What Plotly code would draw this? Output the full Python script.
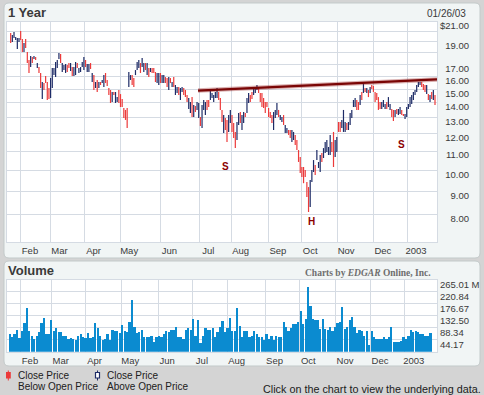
import math
import plotly.graph_objects as go

W, H = 484, 395

# ---------------- data ----------------
months = ["Feb", "Mar", "Apr", "May", "Jun", "Jul", "Aug", "Sep", "Oct", "Nov", "Dec", "2003"]
price_month_pos = [6.2, 23.9, 44.4, 65.8, 90, 113.4, 132.8, 155.2, 174.6, 196.2, 218.3, 238.2]
volume_month_pos = [4.5, 17.1, 30.9, 45.5, 60.6, 74.8, 89.0, 104.5, 118.3, 133.3, 147.6, 161.4]

# d = close below open (red), u = close above open (navy)
direction = (
    "d u u u u u d d u d "
    "d d u d u d u d d u "
    "d d d d u u u u u u "
    "d u u u d d u d u u "
    "d u u u u d u u d u "
    "d u d u d u u d d d "
    "d u d u u d d d d d "
    "d u u d d u u u d u "
    "u d u d u d d d u u "
    "d u u d d u d u d u "
    "u d u u d d d u u d "
    "u d u u d u u u d d "
    "u u u u u d d d u d "
    "d u u d d d u u d u "
    "u d u u d d u u u d "
    "d d d d d d d d u u "
    "u d u u d u u d d u "
    "u d d d d d d d d d "
    "u u u d u u u d u u "
    "u u u d d u u d d u "
    "u u d u u u u u d d "
    "u d u d u d u d d d "
    "d d d u u u d u u d "
    "d u d u u d d u u u "
    "u u u u u u u d d d "
    "u d u d u d"
).split()

high = [
    19.87, 19.67, 19.97, 19.48, 19.38, 19.38, 20.07, 19.29, 18.91, 19.29,
    18.07, 17.36, 17.71, 17.62, 17.71, 17.62, 17.10, 16.76, 16.27, 15.55,
    15.47, 16.02, 15.55, 15.09, 15.86, 16.68, 16.68, 17.19, 17.36, 17.98,
    17.89, 17.10, 16.93, 17.02, 16.93, 17.10, 17.10, 16.76, 16.76, 17.19,
    17.10, 16.68, 16.76, 17.19, 17.62, 17.36, 17.02, 17.02, 17.10, 16.27,
    16.10, 15.55, 15.71, 15.55, 15.55, 15.71, 16.10, 16.27, 15.71, 15.09,
    14.94, 14.79, 14.79, 14.79, 14.42, 14.94, 14.64, 14.28, 13.65, 13.52,
    13.65, 16.35, 16.10, 16.10, 15.86, 16.51, 17.19, 17.36, 17.10, 17.53,
    17.10, 17.10, 17.10, 16.68, 16.68, 16.68, 16.68, 16.35, 16.27, 16.27,
    16.27, 16.10, 16.10, 15.94, 15.86, 15.94, 15.86, 15.55, 15.94, 15.32,
    15.16, 15.16, 15.09, 15.16, 15.09, 14.94, 14.57, 14.35, 14.07, 14.42,
    13.86, 13.79, 14.07, 14.00, 13.05, 13.86, 14.21, 14.07, 14.21, 14.21,
    14.86, 14.72, 14.57, 14.79, 15.09, 14.79, 14.35, 13.52, 13.18, 12.99,
    12.86, 13.18, 13.52, 13.18, 12.67, 12.11, 12.73, 13.31, 13.38, 13.18,
    13.38, 13.31, 14.35, 14.72, 14.57, 14.79, 15.09, 15.16, 15.32, 15.09,
    14.72, 14.72, 14.35, 14.07, 14.07, 13.65, 13.38, 13.18, 13.38, 13.52,
    14.00, 13.52, 13.18, 13.05, 13.18, 12.54, 12.35, 12.23, 12.23, 12.23,
    12.11, 11.93, 11.63, 11.06, 10.68, 10.16, 10.16, 10.01, 9.42, 9.19,
    9.52, 10.01, 10.52, 10.26, 11.06, 10.42, 10.79, 10.90, 11.17, 11.51,
    11.63, 11.23, 11.93, 11.51, 12.11, 11.63, 11.81, 12.73, 12.73, 12.86,
    13.52, 12.73, 12.67, 12.73, 13.31, 13.52, 14.21, 14.35, 14.21, 14.07,
    14.57, 14.79, 15.47, 15.09, 15.09, 14.94, 15.16, 15.32, 15.24, 14.79,
    14.72, 14.42, 14.07, 14.07, 14.21, 13.93, 14.07, 14.42, 13.93, 13.58,
    13.52, 13.52, 13.58, 13.58, 13.72, 13.52, 13.25, 13.25, 13.72, 13.93,
    14.42, 14.57, 14.79, 14.94, 15.32, 15.55, 15.55, 15.55, 15.40, 15.32,
    15.32, 14.64, 14.57, 14.79, 14.94, 14.57,
]

low = [
    18.91, 19.00, 19.38, 19.19, 18.35, 19.00, 19.19, 18.07, 18.07, 18.44,
    17.10, 16.27, 16.76, 17.10, 17.45, 17.36, 16.68, 16.27, 15.09, 14.28,
    14.94, 15.47, 14.21, 14.28, 14.35, 15.09, 16.10, 15.94, 16.68, 17.45,
    17.10, 16.35, 16.51, 16.27, 16.35, 16.68, 16.43, 16.02, 16.02, 16.10,
    16.68, 16.27, 16.35, 16.76, 16.51, 16.76, 16.35, 16.35, 16.60, 15.55,
    14.94, 15.09, 14.79, 15.09, 15.32, 15.47, 15.16, 15.47, 15.24, 14.57,
    14.00, 14.07, 14.57, 14.00, 14.07, 14.00, 13.72, 13.72, 12.99, 12.86,
    12.35, 15.16, 15.71, 15.32, 15.16, 16.10, 16.51, 16.68, 16.27, 16.76,
    16.35, 16.51, 16.10, 15.94, 16.35, 16.27, 16.27, 15.55, 15.47, 15.32,
    15.47, 15.47, 15.47, 15.47, 15.16, 14.94, 15.47, 15.16, 15.16, 14.57,
    14.72, 14.57, 14.21, 14.79, 14.57, 14.42, 14.07, 13.58, 13.31, 13.05,
    13.05, 13.38, 13.52, 12.99, 12.48, 12.35, 13.52, 13.18, 13.52, 13.72,
    14.21, 14.35, 14.07, 14.35, 14.35, 14.21, 13.52, 12.73, 12.05, 12.23,
    11.51, 12.11, 12.67, 12.11, 11.75, 11.17, 11.63, 12.54, 12.67, 12.23,
    12.67, 13.05, 13.31, 14.00, 14.07, 14.28, 14.57, 14.72, 14.94, 14.72,
    14.07, 13.72, 13.65, 13.31, 13.72, 13.05, 12.99, 12.67, 12.23, 12.99,
    13.18, 13.05, 12.86, 12.73, 12.54, 12.05, 12.05, 11.93, 11.75, 11.51,
    11.63, 11.34, 11.06, 10.42, 9.86, 9.66, 9.37, 9.66, 8.74, 8.11,
    8.32, 9.42, 9.91, 9.76, 10.52, 10.11, 9.91, 10.42, 10.63, 10.90,
    10.95, 10.79, 10.79, 10.95, 10.16, 10.68, 10.95, 12.11, 12.11, 12.35,
    12.11, 12.11, 12.23, 12.23, 12.54, 12.99, 13.72, 13.72, 13.52, 13.52,
    13.86, 14.21, 14.72, 14.79, 14.72, 14.42, 14.72, 15.01, 14.79, 14.07,
    14.21, 13.52, 13.58, 13.58, 13.72, 13.58, 13.58, 13.72, 13.52, 13.05,
    12.79, 13.05, 13.25, 13.18, 13.25, 13.18, 13.12, 12.92, 13.05, 13.58,
    13.72, 13.93, 14.21, 14.57, 14.79, 15.16, 15.32, 15.16, 14.94, 14.79,
    14.64, 14.21, 14.07, 14.28, 14.21, 13.86,
]

# volume, millions of shares
volume = [
    65, 55, 65, 83, 51, 76, 106, 161, 76, 61,
    49, 61, 73, 107, 124, 67, 67, 120, 79, 90,
    73, 73, 59, 59, 48, 51, 49, 46, 61, 67,
    55, 52, 70, 51, 55, 106, 88, 61, 45, 50,
    65, 45, 83, 79, 79, 70, 101, 79, 73, 112,
    193, 92, 70, 73, 82, 57, 55, 57, 61, 39,
    55, 59, 55, 67, 76, 73, 82, 82, 94, 57,
    57, 49, 82, 89, 82, 122, 59, 118, 33,
    61, 89, 82, 82, 89, 55, 73, 94, 116, 73,
    89, 124, 76, 79, 162, 98, 55, 76, 76, 57,
    61, 79, 67, 57, 57, 46, 67, 49, 61, 46,
    61, 55, 55, 112, 92, 77, 89, 104, 104, 110,
    150, 104, 122, 240, 171, 122, 118, 118, 85, 122,
    85, 82, 92, 79, 94, 106, 110, 165, 85, 94,
    118, 128, 92, 70, 82, 79, 61, 79, 28, 79,
    57, 49, 49, 49, 57, 49,
    55, 92, 37, 37, 37, 40, 55, 49, 61, 82,
    73, 79, 73, 67, 67, 61, 61, 70,
]

price_tick_values = [21, 19, 17, 16, 15, 14, 13, 12, 11, 10, 9, 8]
price_tick_text = ["$21.00", "19.00", "17.00", "16.00", "15.00", "14.00",
                   "13.00", "12.00", "11.00", "10.00", "9.00", "8.00"]
price_grid_values = [8, 9, 10, 11, 12, 13, 14, 15, 16, 17, 18, 19, 20]
volume_tick_values = [44.17, 88.34, 132.50, 176.67, 220.84, 265.01]
volume_tick_text = ["44.17", "88.34", "132.50", "176.67", "220.84", "265.01 M"]

trend_x = [112.6, 256.2]
trend_y = [14.90, 15.75]

# ---------------- styles ----------------
RED = "#ec3a3a"
NAVY = "#1d2b66"
VOLBLUE = "#0b8bd0"
GRID = "#d5dbe3"
PANEL = "#f1f5f5"
PANEL_LINE = "#c3caca"
BG = "#d4d4d4"
TXT = "#3a3a3a"
FONT = "Liberation Sans"
tickfont = dict(family=FONT, size=9.5, color=TXT)


def fx(x):
    return x / W


def fy(y):
    return 1 - y / H


def rounded_rect(x0, y0, x1, y1, r):
    pts = [
        ("M", x0 + r, y0), ("L", x1 - r, y0), ("Q", x1, y0, x1, y0 + r),
        ("L", x1, y1 - r), ("Q", x1, y1, x1 - r, y1), ("L", x0 + r, y1),
        ("Q", x0, y1, x0, y1 - r), ("L", x0, y0 + r), ("Q", x0, y0, x0 + r, y0),
    ]
    out = []
    for p in pts:
        cmd, coords = p[0], p[1:]
        c = []
        for i in range(0, len(coords), 2):
            c.append(f"{fx(coords[i]):.5f},{fy(coords[i + 1]):.5f}")
        out.append(cmd + " " + " ".join(c))
    return " ".join(out) + " Z"


# ---------------- traces ----------------
red_x, red_y, navy_x, navy_y = [], [], [], []
for i, (d, h, l) in enumerate(zip(direction, high, low)):
    if d == "d":
        red_x += [i, i, None]
        red_y += [l, h, None]
    else:
        navy_x += [i, i, None]
        navy_y += [l, h, None]

fig = go.Figure()
fig.add_trace(go.Scatter(x=red_x, y=red_y, mode="lines", line=dict(color=RED, width=1.2),
                         xaxis="x", yaxis="y", hoverinfo="skip"))
fig.add_trace(go.Scatter(x=navy_x, y=navy_y, mode="lines", line=dict(color=NAVY, width=1.2),
                         xaxis="x", yaxis="y", hoverinfo="skip"))
fig.add_trace(go.Scatter(x=trend_x, y=trend_y, mode="lines",
                         line=dict(color="rgba(150,30,30,0.35)", width=4.5),
                         xaxis="x", yaxis="y3", hoverinfo="skip"))
fig.add_trace(go.Scatter(x=trend_x, y=trend_y, mode="lines",
                         line=dict(color="#7a0505", width=2.2),
                         xaxis="x", yaxis="y3", hoverinfo="skip"))
fig.add_trace(go.Bar(x=list(range(len(volume))), y=volume,
                     marker=dict(color=VOLBLUE, line=dict(width=0)), width=0.72,
                     xaxis="x2", yaxis="y2", hoverinfo="skip"))

log_range = [math.log10(6.98), math.log10(21)]

shapes = [
    dict(type="path", path=rounded_rect(4, 3, 480, 258, 5), xref="paper", yref="paper",
         fillcolor=PANEL, line=dict(color=PANEL_LINE, width=1), layer="below"),
    dict(type="path", path=rounded_rect(4, 261, 480, 366, 5), xref="paper", yref="paper",
         fillcolor=PANEL, line=dict(color=PANEL_LINE, width=1), layer="below"),
    dict(type="rect", x0=fx(7), x1=fx(437), y0=fy(242), y1=fy(22), xref="paper", yref="paper",
         fillcolor="white", line=dict(width=0), layer="below"),
    dict(type="rect", x0=fx(7), x1=fx(437), y0=fy(351.7), y1=fy(279.5), xref="paper", yref="paper",
         fillcolor="white", line=dict(width=0), layer="below"),
    # legend icons
    dict(type="line", x0=fx(8.3), x1=fx(8.3), y0=fy(370.5), y1=fy(380.5), xref="paper", yref="paper",
         line=dict(color=RED, width=1)),
    dict(type="rect", x0=fx(6), x1=fx(10.8), y0=fy(378.5), y1=fy(372), xref="paper", yref="paper",
         fillcolor=RED, line=dict(width=0)),
    dict(type="line", x0=fx(97.5), x1=fx(97.5), y0=fy(370.5), y1=fy(380.5), xref="paper", yref="paper",
         line=dict(color=NAVY, width=1)),
    dict(type="rect", x0=fx(95.5), x1=fx(99.5), y0=fy(378), y1=fy(372.5), xref="paper", yref="paper",
         fillcolor="white", line=dict(color=NAVY, width=1.2)),
]


def ann(text, x, y, xanchor="left", size=9.5, color=TXT, family=FONT, yanchor="middle"):
    return dict(text=text, x=fx(x), y=fy(y), xref="paper", yref="paper", showarrow=False,
                xanchor=xanchor, yanchor=yanchor, font=dict(family=family, size=size, color=color))


annotations = [
    ann("<b>1 Year</b>", 5.5, 12.5, size=13),
    ann("01/26/03", 467.5, 14, xanchor="right", size=10),
    ann("<b>Volume</b>", 5.5, 270, size=13),
    ann("<b>Charts by <i>EDGAR</i> Online, Inc.</b>", 433, 272.5, xanchor="right", size=9.5,
        color="#6e6e6e", family="Liberation Serif"),
    ann("<b>S</b>", 225, 166, xanchor="center", size=10, color="#8b0000"),
    ann("<b>H</b>", 311, 221.5, xanchor="center", size=10, color="#8b0000"),
    ann("<b>S</b>", 401.5, 145, xanchor="center", size=10, color="#8b0000"),
    ann("Close Price", 16, 375, size=10, color="#202020"),
    ann("Below Open Price", 16, 386.5, size=10, color="#202020"),
    ann("Close Price", 105, 375, size=10, color="#202020"),
    ann("Above Open Price", 105, 386.5, size=10, color="#202020"),
    ann("Click on the chart to view the underlying data.", 483, 388.5, xanchor="right",
        size=10.8, color="#202020"),
]

axis_common = dict(showgrid=True, gridcolor=GRID, gridwidth=1, zeroline=False,
                   showline=True, linecolor=GRID, linewidth=1, mirror=True, ticks="",
                   fixedrange=True, tickfont=tickfont, automargin=False)

fig.update_layout(
    width=W, height=H,
    margin=dict(l=0, r=0, t=0, b=0, pad=0, autoexpand=False),
    paper_bgcolor=BG, plot_bgcolor="rgba(0,0,0,0)",
    showlegend=False, bargap=0,
    shapes=shapes, annotations=annotations,
    xaxis=dict(domain=[fx(7), fx(437)], range=[-2.21, 256.2], anchor="y",
               tickmode="array", tickvals=price_month_pos, ticktext=months,
               ticklabelshift=9, **axis_common),
    yaxis=dict(domain=[fy(242), fy(22)], type="log", range=log_range, anchor="x",
               tickmode="array", tickvals=price_grid_values, showticklabels=False, **axis_common),
    yaxis3=dict(overlaying="y", side="left", anchor="free", position=fx(469),
                type="log", range=log_range, tickmode="array",
                tickvals=price_tick_values, ticktext=price_tick_text,
                showgrid=False, zeroline=False, showline=False, ticks="",
                fixedrange=True, tickfont=tickfont, ticklabelshift=4, automargin=False),
    xaxis2=dict(domain=[fx(7), fx(437)], range=[-1.22, 174.6], anchor="y2",
                tickmode="array", tickvals=volume_month_pos, ticktext=months,
                ticklabelshift=9, **axis_common),
    yaxis2=dict(domain=[fy(351.7), fy(279.5)], range=[0, 265.01], anchor="x2", side="right",
                tickmode="array", tickvals=volume_tick_values, ticktext=volume_tick_text,
                ticklabelshift=5, **axis_common),
)

fig.write_html(
    "out.html",
    config={"displayModeBar": False, "responsive": False},
    post_script="document.body.style.margin='0px';document.body.style.overflow='hidden';",
)
